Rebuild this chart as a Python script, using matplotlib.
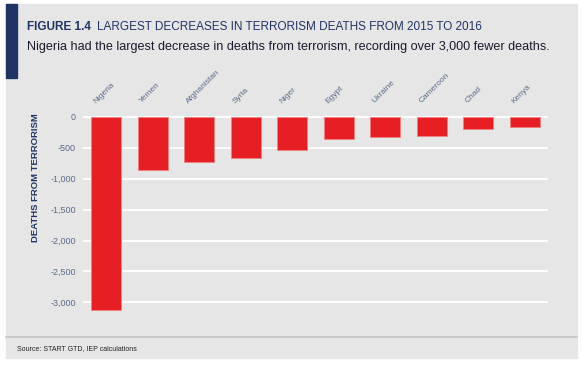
import matplotlib.pyplot as plt
from matplotlib.patches import Rectangle
from matplotlib.lines import Line2D

countries = ['Nigeria', 'Yemen', 'Afghanistan', 'Syria', 'Niger',
             'Egypt', 'Ukraine', 'Cameroon', 'Chad', 'Kenya']
change = [-3120, -860, -727, -662, -543, -360, -333, -312, -194, -166]
yticks = [0, -500, -1000, -1500, -2000, -2500, -3000]

W, H = 582, 366
bg = '#e6e6e6'
navy = '#1f3464'
tickc = '#5a6a8a'
red = '#e81e25'

plt.rcParams['font.family'] = ['Liberation Sans', 'DejaVu Sans']
fig = plt.figure(figsize=(W / 100, H / 100), dpi=100)
fig.patch.set_facecolor('white')

def px(x0, y0, x1, y1):
    return [x0 / W, 1 - y1 / H, (x1 - x0) / W, (y1 - y0) / H]

# gray panel and navy tab
fig.patches.append(Rectangle((6 / W, 1 - 358 / H), 571 / W, 354 / H,
                             transform=fig.transFigure, color=bg, zorder=-2))
fig.patches.append(Rectangle((6 / W, 1 - 78 / H), 11 / W, 74 / H,
                             transform=fig.transFigure, color=navy, zorder=-1))
fig.lines.append(Line2D([6 / W, 577 / W], [1 - 337 / H, 1 - 337 / H],
                        transform=fig.transFigure, color='#c4c4c4', lw=1.2, zorder=-1))

fig.text(27 / W, 1 - 27 / H, 'FIGURE 1.4', fontsize=8.5, fontweight='bold',
         color=navy, va='center', ha='left')
fig.text(97 / W, 1 - 27 / H, 'LARGEST DECREASES IN TERRORISM DEATHS FROM 2015 TO 2016',
         fontsize=8.5, color=navy, va='center', ha='left')
fig.text(27 / W, 1 - 47 / H,
         'Nigeria had the largest decrease in deaths from terrorism, recording over 3,000 fewer deaths.',
         fontsize=9.05, color='#1a1a2e', va='center', ha='left')
fig.text(17 / W, 1 - 349 / H, 'Source: START GTD, IEP calculations',
         fontsize=5, color='#222222', va='center', ha='left')
fig.text(36 / W, 1 - 178 / H, 'DEATHS FROM TERRORISM', fontsize=6.8, fontweight='bold',
         color=navy, rotation=90, va='center', ha='center')

ax = fig.add_axes(px(83, 112, 548, 312))
ax.set_zorder(2)
ax.patch.set_alpha(0)
x = range(len(countries))
ax.bar(x, change, width=0.65, color=red, edgecolor='#f08080', linewidth=0.6, zorder=3)
ax.set_xlim(-0.5, len(countries) - 0.5)
ax.set_ylim(-3155, 76)
ax.set_yticks(yticks)
ax.set_yticklabels(['{:,}'.format(v) for v in yticks])
ax.grid(axis='y', color='white', lw=1.4, zorder=0)
ax.tick_params(axis='y', length=0, labelsize=6.5, labelcolor=tickc, pad=5)
ax.set_xticks([])
for s in ax.spines.values():
    s.set_visible(False)
for i, c in enumerate(countries):
    ax.annotate(c, (i, 0), xytext=(-6.5, 8.6), textcoords='offset points',
                rotation=45, rotation_mode='anchor', ha='left', va='bottom',
                fontsize=6, color=tickc, annotation_clip=False)

fig.savefig('out.png', dpi=100)
